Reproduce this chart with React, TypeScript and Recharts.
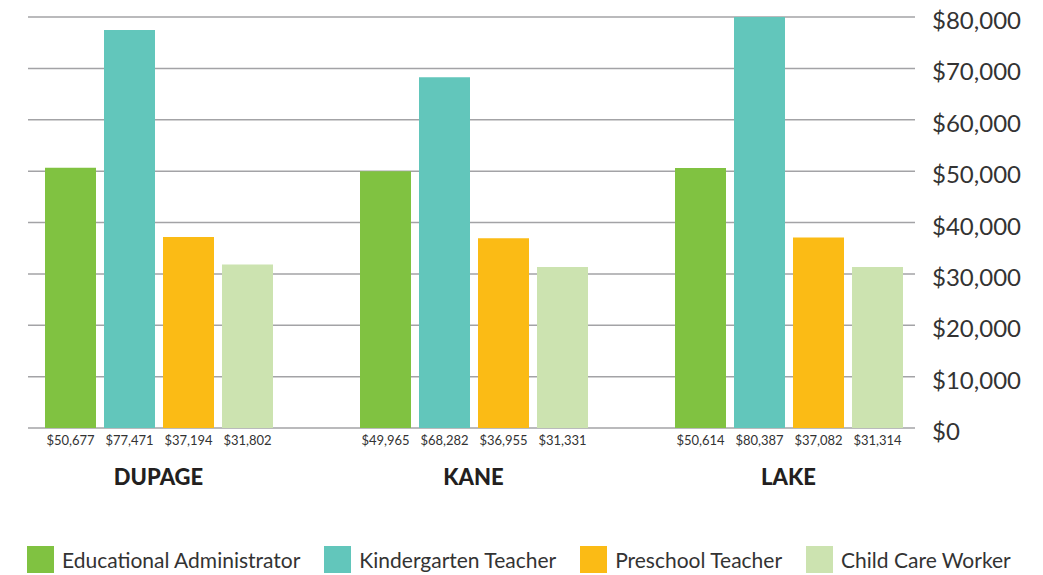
import { Bar, BarChart, CartesianGrid, LabelList, Legend, XAxis, YAxis } from "recharts";

const counties = ["DUPAGE", "KANE", "LAKE"];
const adminPay = [50677, 49965, 50614];
const kinderPay = [77471, 68282, 80387];
const preschoolPay = [37194, 36955, 37082];
const childCarePay = [31802, 31331, 31314];
const payTicks = [0, 10000, 20000, 30000, 40000, 50000, 60000, 70000, 80000];

const series = [
  { key: "admin", name: "Educational Administrator", color: "#80c241", values: adminPay },
  { key: "kinder", name: "Kindergarten Teacher", color: "#62c6bb", values: kinderPay },
  { key: "preschool", name: "Preschool Teacher", color: "#fbbb15", values: preschoolPay },
  { key: "childcare", name: "Child Care Worker", color: "#cce3b0", values: childCarePay },
];

const rows = counties.map((county, i) => {
  const row: Record<string, string | number> = { county };
  series.forEach((s) => {
    row[s.key] = s.values[i];
  });
  return row;
});

const money = (v: number) => `$${v.toLocaleString("en-US")}`;

const GRID_X1 = 28;
const GRID_X2 = 915;

function gridLine(props: any) {
  return (
    <line
      key={props.key}
      x1={GRID_X1}
      x2={GRID_X2}
      y1={props.y1}
      y2={props.y2}
      stroke="#a3a3a6"
      strokeWidth={1.5}
    />
  );
}

function CountyTick({ x, y, payload }: any) {
  return (
    <text x={x} y={y + 57} textAnchor="middle" fill="#231f20" fontSize={22} fontWeight={900}>
      {payload.value}
    </text>
  );
}

function PayTick({ x, y, payload }: any) {
  return (
    <text x={x - 14} y={y + 12} textAnchor="start" fill="#333333" fontSize={24}>
      {money(payload.value)}
    </text>
  );
}

function ValueLabel({ x, y, width, height, value }: any) {
  return (
    <text x={x + width / 2} y={y + height + 17} textAnchor="middle" fill="#333333" fontSize={13}>
      {money(value)}
    </text>
  );
}

// keep the legend in series order instead of the default alphabetical sort
function LegendRow({ payload }: any) {
  const items = series.map((s) => payload.find((p: any) => p.dataKey === s.key) ?? { value: s.name, color: s.color });
  return (
    <div style={{ display: "flex", alignItems: "center", whiteSpace: "nowrap" }}>
      {items.map((p: any) => (
        <div key={p.value} style={{ display: "flex", alignItems: "center", marginRight: 24 }}>
          <span style={{ width: 27, height: 27, background: p.color, marginRight: 8, display: "inline-block" }} />
          <span style={{ fontSize: 21, color: "#333333" }}>{p.value}</span>
        </div>
      ))}
    </div>
  );
}

export default function App() {
  return (
    <div style={{ position: "absolute", left: 0, top: 0, width: 1043, height: 575, fontFamily: "Lato, sans-serif", background: "#fff", overflow: "hidden" }}>
      <BarChart
        width={1043}
        height={575}
        data={rows}
        margin={{ top: 17, right: 0, left: 1, bottom: 0 }}
        barSize={51}
        barGap={8}
        style={{ fontFamily: "Lato, sans-serif" }}
      >
        <CartesianGrid horizontal={gridLine} vertical={false} />
        <XAxis
          dataKey="county"
          axisLine={false}
          tickLine={false}
          tickSize={0}
          tickMargin={0}
          height={147}
          tick={<CountyTick />}
        />
        <YAxis
          orientation="right"
          width={97}
          domain={[0, 80000]}
          ticks={payTicks}
          allowDataOverflow
          axisLine={false}
          tickLine={false}
          tickSize={0}
          tickMargin={0}
          tick={<PayTick />}
        />
        <Legend
          layout="horizontal"
          verticalAlign="middle"
          align="center"
          content={<LegendRow />}
          wrapperStyle={{ top: 546, left: 27, width: 1016 }}
        />
        {series.map((s) => (
          <Bar key={s.key} dataKey={s.key} name={s.name} fill={s.color} isAnimationActive={false}>
            <LabelList dataKey={s.key} content={<ValueLabel />} />
          </Bar>
        ))}
      </BarChart>
    </div>
  );
}
